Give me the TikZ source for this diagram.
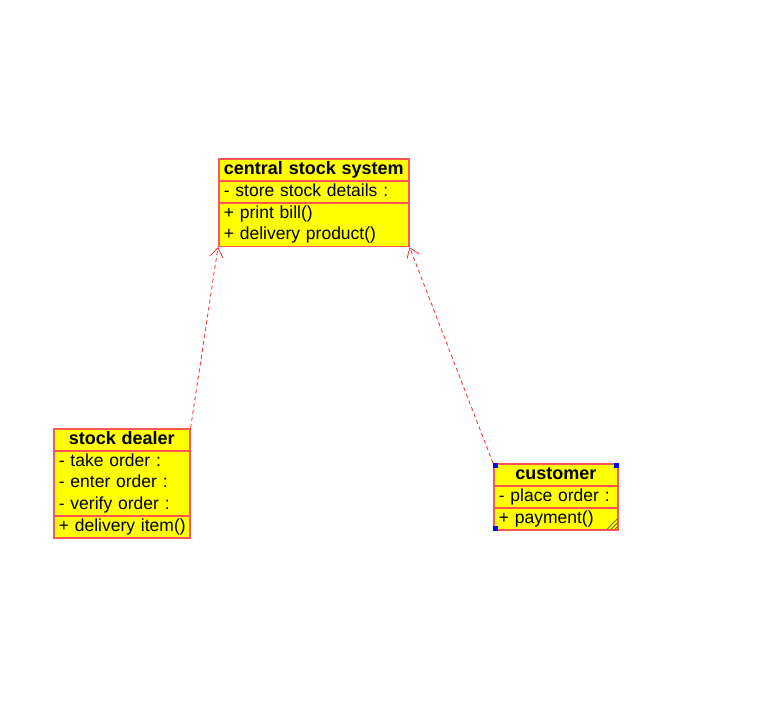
\documentclass[tikz,border=0pt]{standalone}
\usepackage{fontspec}
\setmainfont{Liberation Sans}
\usetikzlibrary{arrows.meta, positioning, shapes.multipart, calc}

\definecolor{umlyellow}{RGB}{255,255,0}
\definecolor{umlborder}{RGB}{255,85,85}
\definecolor{umldash}{RGB}{255,40,40}
\definecolor{umlgrip}{RGB}{130,110,30}

\newcommand{\umlline}[1]{\mbox{\strut #1}\par}
\newcommand{\umltitle}[1]{{\centering\fontsize{18}{21.6}\selectfont\bfseries\umlline{#1}}}

\tikzset{
    umlclass/.style={rectangle split, rectangle split parts=3, draw=umlborder, line width=1.6pt,
        fill=umlyellow, anchor=north west, inner xsep=5pt, inner ysep=-0.6pt, align=left,
        font=\fontsize{17.5}{21.6}\selectfont},
    realize/.style={umldash, dashed, dash pattern=on 4pt off 3pt, line width=0.8pt,
        -{Straight Barb[length=9pt, width=13pt, line width=0.8pt]}},
    handle/.style={fill=blue, draw=none}
}

\begin{document}
\begin{tikzpicture}[x=1pt, y=-1pt]
    \useasboundingbox (0,0) rectangle (765,712);

    % Klassen
    \node[umlclass, text width=180pt] (css) at (218,158)
        {\umltitle{central stock system}
         \nodepart{two}\umlline{- store stock details :}
         \nodepart{three}\umlline{+ print bill()}\umlline{+ delivery product()}};

    \node[umlclass, text width=126pt] (dealer) at (53,428)
        {\umltitle{stock dealer}
         \nodepart{two}\umlline{- take order :}\umlline{- enter order :}\umlline{- verify order :}
         \nodepart{three}\umlline{+ delivery item()}};

    \node[umlclass, text width=114pt] (cust) at (493,463)
        {\umltitle{customer}
         \nodepart{two}\umlline{- place order :}
         \nodepart{three}\umlline{+ payment()}};

    % Auswahlmarken am Kunden
    \fill[handle] (cust.north west) rectangle ++(4.5,4.5);
    \fill[handle] (cust.north east) rectangle ++(-4.5,4.5);
    \fill[handle] (cust.south west) rectangle ++(4.5,-4.5);
    \foreach \d in {3,7,11}
        \draw[umlgrip, line width=0.8pt] ($(cust.south east)+(-\d-1,-1)$) -- ++(\d,-\d);

    % Realisierungen
    \draw[realize] (dealer.north east) -- (css.south west);
    \draw[realize] (cust.north west) -- (css.south east);
\end{tikzpicture}
\end{document}
